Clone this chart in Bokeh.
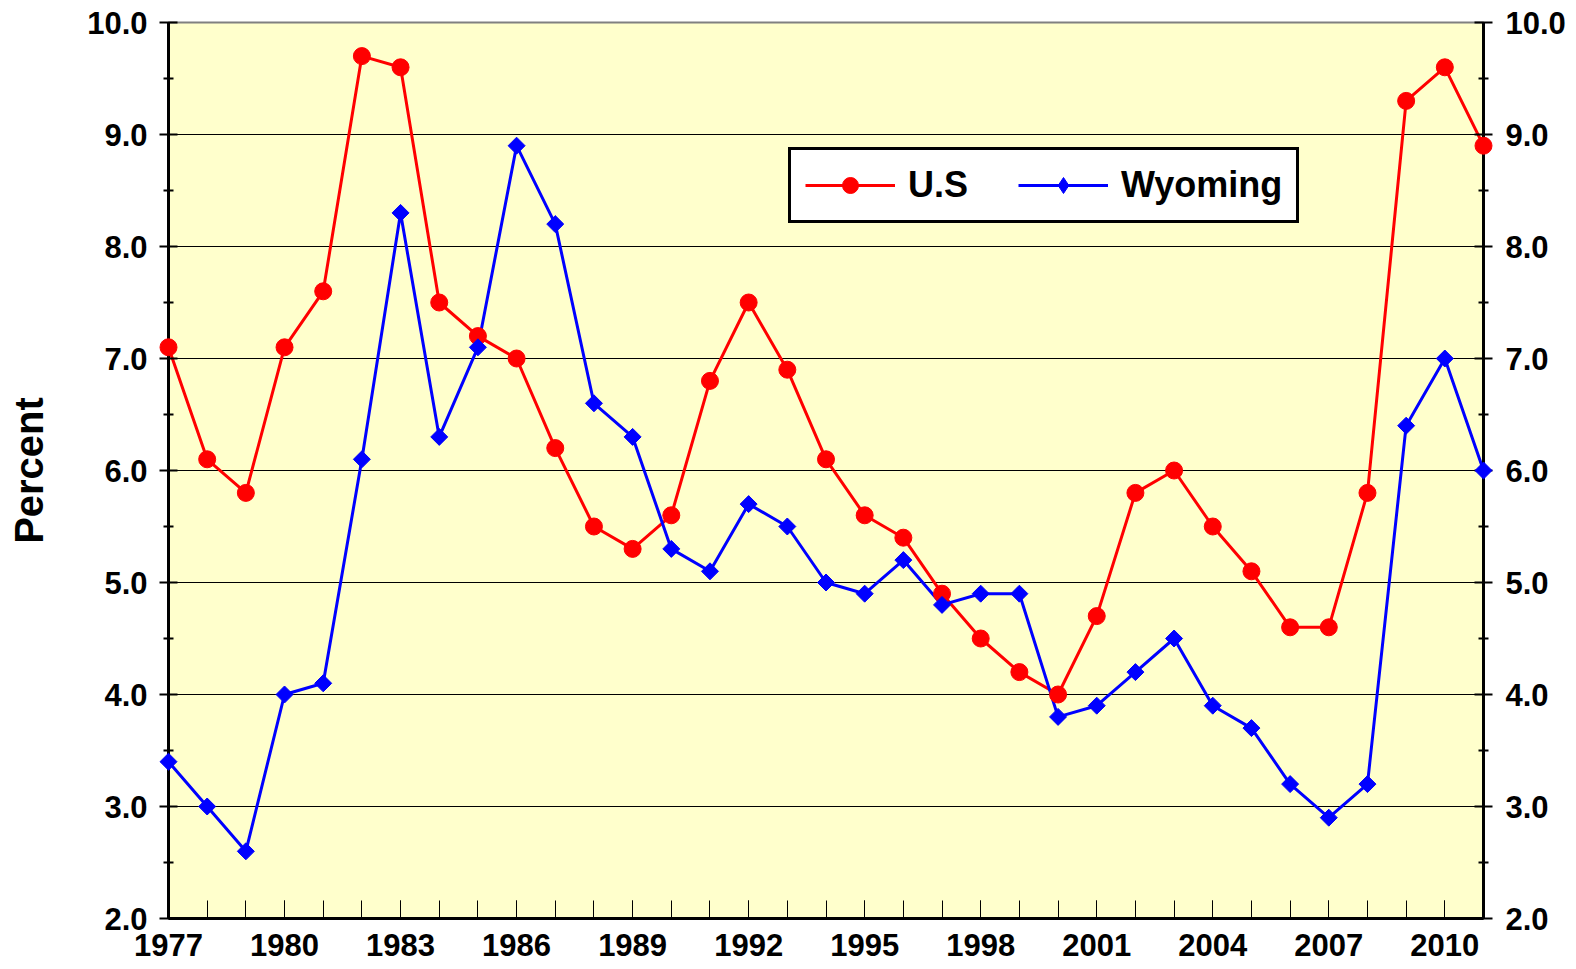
import math
from bokeh.plotting import figure
from bokeh.models import LinearAxis, FixedTicker, Range1d, Legend, LegendItem, PrintfTickFormatter
from bokeh.embed import file_html
from bokeh.resources import INLINE

years = list(range(1977, 2012))
us = [7.1, 6.1, 5.8, 7.1, 7.6, 9.7, 9.6, 7.5, 7.2, 7.0, 6.2, 5.5, 5.3, 5.6, 6.8,
      7.5, 6.9, 6.1, 5.6, 5.4, 4.9, 4.5, 4.2, 4.0, 4.7, 5.8, 6.0, 5.5, 5.1, 4.6,
      4.6, 5.8, 9.3, 9.6, 8.9]
wyoming = [3.4, 3.0, 2.6, 4.0, 4.1, 6.1, 8.3, 6.3, 7.1, 8.9, 8.2, 6.6, 6.3, 5.3, 5.1,
           5.7, 5.5, 5.0, 4.9, 5.2, 4.8, 4.9, 4.9, 3.8, 3.9, 4.2, 4.5, 3.9, 3.7, 3.2,
           2.9, 3.2, 6.4, 7.0, 6.0]
x_labels = list(range(1977, 2012, 3))
y_ticks = [2.0, 3.0, 4.0, 5.0, 6.0, 7.0, 8.0, 9.0, 10.0]
y_minor = [2.5, 3.5, 4.5, 5.5, 6.5, 7.5, 8.5, 9.5]

FONT = "Liberation Sans"
FS = "31px"

p = figure(width=1568, height=969, output_backend="svg", toolbar_location=None,
           x_range=Range1d(1977, 2011), y_range=Range1d(2.0, 10.0),
           min_border_left=168, min_border_right=85, min_border_top=22, min_border_bottom=51)
p.background_fill_color = "#FFFFCC"
p.border_fill_color = "white"
p.outline_line_color = "#808080"
p.outline_line_width = 2

# x axis
p.xaxis.ticker = FixedTicker(ticks=x_labels, minor_ticks=years)
p.xaxis.axis_line_width = 3
p.xaxis.axis_line_color = "black"
p.xaxis.major_tick_in = 18
p.xaxis.major_tick_out = 0
p.xaxis.minor_tick_in = 18
p.xaxis.minor_tick_out = 0
p.xaxis.major_tick_line_color = "black"
p.xaxis.minor_tick_line_color = "black"
p.xaxis.major_tick_line_width = 1
p.xaxis.minor_tick_line_width = 1
p.xaxis.major_label_text_font = FONT
p.xaxis.major_label_text_font_style = "bold"
p.xaxis.major_label_text_font_size = FS
p.xaxis.major_label_text_color = "black"
p.xaxis.major_label_standoff = 15

def style_y(ax, standoff):
    ax.ticker = FixedTicker(ticks=y_ticks, minor_ticks=y_minor)
    ax.formatter = PrintfTickFormatter(format="%.1f")
    ax.axis_line_width = 3
    ax.axis_line_color = "black"
    ax.major_tick_in = 9
    ax.major_tick_out = 9
    ax.minor_tick_in = 5
    ax.minor_tick_out = 5
    ax.major_tick_line_color = "black"
    ax.minor_tick_line_color = "black"
    ax.major_tick_line_width = 2
    ax.minor_tick_line_width = 2
    ax.major_label_text_font = FONT
    ax.major_label_text_font_style = "bold"
    ax.major_label_text_font_size = FS
    ax.major_label_text_color = "black"
    ax.major_label_standoff = standoff

style_y(p.yaxis[0], 12)
p.yaxis[0].axis_label = "Percent"
p.yaxis[0].axis_label_text_font = FONT
p.yaxis[0].axis_label_text_font_style = "bold"
p.yaxis[0].axis_label_text_font_size = "40px"
p.yaxis[0].axis_label_text_color = "black"
p.yaxis[0].axis_label_standoff = 33

right = LinearAxis()
style_y(right, 13)
p.add_layout(right, "right")

p.xgrid.grid_line_color = None
p.ygrid.ticker = FixedTicker(ticks=y_ticks)
p.ygrid.grid_line_color = "black"
p.ygrid.grid_line_width = 1

l_us = p.line(years, us, line_color="#FF0000", line_width=3)
m_us = p.scatter(years, us, marker="circle", size=17, fill_color="#FF0000",
                 line_color="#FF0000", level="overlay")
l_wy = p.line(years, wyoming, line_color="#0000FF", line_width=3)
m_wy = p.scatter(years, wyoming, marker="square", size=12, angle=math.pi / 4,
                 fill_color="#0000FF", line_color="#0000FF", level="overlay")
# legend-only diamond swatch (point lies outside the visible ranges, clipped by the frame)
m_wy_leg = p.scatter([1900], [0], marker="diamond", size=24,
                     fill_color="#0000FF", line_color="#0000FF")

legend = Legend(items=[LegendItem(label="U.S", renderers=[l_us, m_us]),
                       LegendItem(label="Wyoming", renderers=[l_wy, m_wy_leg])],
                location=(620, 695), orientation="horizontal")
legend.label_text_font = FONT
legend.label_text_font_style = "bold"
legend.label_text_font_size = "36px"
legend.label_text_color = "black"
legend.glyph_width = 90
legend.glyph_height = 40
legend.label_standoff = 13
legend.spacing = 50
legend.padding = 14
legend.margin = 0
legend.border_line_color = "black"
legend.border_line_width = 3
legend.border_line_alpha = 1.0
legend.background_fill_color = "white"
legend.background_fill_alpha = 1.0
p.add_layout(legend, "center")

open("out.html", "w").write(file_html(p, INLINE))
